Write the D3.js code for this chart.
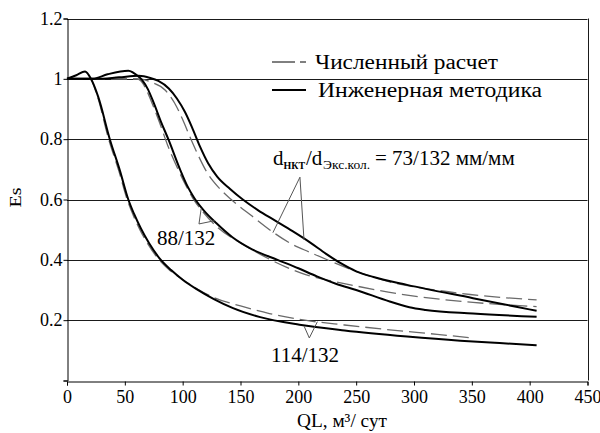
<!DOCTYPE html>
<html><head><meta charset="utf-8">
<script src="https://cdn.jsdelivr.net/npm/d3@7"></script>
<style>
body{margin:0;background:#fff}
svg{display:block}
text{font-family:"Liberation Serif","Times New Roman",serif;fill:#000}
</style>
</head><body><svg id="chart" width="600" height="433" font-family="Liberation Serif, serif"></svg>
<script>
// Axis ticks
const qlTicks = [0, 50, 100, 150, 200, 250, 300, 350, 400, 450];
const esTicks = [0, 0.2, 0.4, 0.6, 0.8, 1, 1.2];
const esTickLabels = ["", "0.2", "0.4", "0.6", "0.8", "1", "1.2"];

// Engineering method (solid) and numerical calculation (dashed), [QL, Es]
const eng73 = [[0,1],[25,1.0],[45,1.005],[62,1.01],[72,1.003],[79,0.993],[88,0.968],[95,0.935],[102,0.89],[108,0.84],[115,0.775],[122,0.72],[130,0.675],[141,0.635],[152,0.60],[165,0.565],[180,0.53],[195,0.495],[210,0.458],[224,0.42],[237,0.388],[250,0.362],[265,0.343],[294,0.317],[351,0.273],[406,0.231]];
const num73 = [[0,1],[40,1.0],[62,1.0],[72,0.99],[85,0.962],[93,0.92],[100,0.865],[106,0.81],[113,0.75],[121,0.69],[131,0.64],[142,0.60],[160,0.545],[178,0.492],[193,0.455],[210,0.425],[227,0.397],[250,0.362],[276,0.33],[322,0.298],[406,0.267]];
const eng88 = [[0,1],[22,1.0],[35,1.015],[53,1.027],[62,1.007],[65,0.996],[70,0.965],[75,0.92],[81,0.86],[87.6,0.80],[97.7,0.70],[104,0.645],[110,0.605],[118,0.565],[129,0.522],[143,0.475],[160,0.435],[182,0.40],[200,0.372],[216,0.345],[233,0.32],[250,0.30],[279,0.262],[296,0.243],[310,0.234],[351,0.222],[406,0.211]];
const num88 = [[0,1],[60,1.0],[64,0.993],[69,0.96],[74,0.915],[80,0.855],[87,0.78],[96,0.70],[103,0.645],[110,0.597],[118,0.557],[130,0.508],[149.6,0.457],[172.6,0.407],[190,0.375],[207,0.35],[225,0.333],[245,0.317],[294,0.283],[351,0.259],[406,0.245]];
const eng114 = [[0,1],[8,1.012],[15.6,1.024],[20.7,1.0],[27,0.94],[37,0.80],[45.8,0.695],[53,0.60],[58,0.552],[64,0.503],[71,0.455],[80,0.405],[90,0.366],[100,0.334],[112,0.303],[127,0.27],[143.5,0.24],[167,0.21],[201,0.185],[240,0.166],[294,0.146],[340,0.132],[374,0.124],[406,0.117]];
const num114 = [[0,1],[20,1.0],[26,0.945],[36,0.80],[44.8,0.695],[52,0.60],[57,0.55],[63,0.50],[70,0.452],[79,0.403],[89,0.365],[100,0.335],[112,0.305],[127,0.275],[150,0.247],[175,0.222],[207,0.199],[240,0.184],[279,0.168],[320,0.153],[351,0.141]];

const series = [
  {data: num73, kind: "num"}, {data: num88, kind: "num"}, {data: num114, kind: "num"},
  {data: eng73, kind: "eng"}, {data: eng88, kind: "eng"}, {data: eng114, kind: "eng"}
];

const legendItems = [
  {kind: "num", label: "Численный расчет"},
  {kind: "eng", label: "Инженерная методика"}
];

const svg = d3.select("#chart");
const W = 600, H = 433;
const m = {left: 67, right: 12.5, top: 18.5, bottom: 52.5};
const x = d3.scaleLinear().domain([0, 450]).range([m.left, W - m.right]);
const y = d3.scaleLinear().domain([0, 1.2]).range([H - m.bottom, m.top]);

const style = {
  num: {stroke: "#6a6a6a", width: 1.3, dash: "16,6"},
  eng: {stroke: "#000", width: 2, dash: null}
};

// horizontal grid lines and right frame
svg.append("g").selectAll("line").data(esTicks.filter(d => d > 0)).join("line")
  .attr("x1", x(0)).attr("x2", x(450))
  .attr("y1", d => Math.round(y(d)) + 0.5).attr("y2", d => Math.round(y(d)) + 0.5)
  .attr("stroke", "#1a1a1a").attr("stroke-width", 1);
svg.append("line")
  .attr("x1", Math.round(x(450)) + 0.5).attr("x2", Math.round(x(450)) + 0.5)
  .attr("y1", y(0)).attr("y2", y(1.2))
  .attr("stroke", "#1a1a1a");

// axes
const xAxis = svg.append("g").attr("transform", `translate(0,${Math.round(y(0)) + 0.5})`)
  .call(d3.axisBottom(x).tickValues(qlTicks).tickSize(4).tickPadding(5).tickFormat(d3.format("d")));
const yAxis = svg.append("g").attr("transform", `translate(${Math.round(x(0)) + 0.5},0)`)
  .call(d3.axisLeft(y).tickValues(esTicks).tickSize(4).tickPadding(1).tickFormat((d, i) => esTickLabels[i]));
[xAxis, yAxis].forEach(g => {
  g.attr("font-family", null);
  g.select(".domain").attr("stroke", "#000");
  g.selectAll(".tick line").attr("stroke", "#000");
  g.selectAll("text").style("font-family", '"Liberation Serif",serif').style("font-size", "18px").attr("fill", "#000");
});

// curves
const line = d3.line().x(d => x(d[0])).y(d => y(d[1])).curve(d3.curveMonotoneX);
svg.append("g").selectAll("path").data(series).join("path")
  .attr("d", d => line(d.data))
  .attr("fill", "none")
  .attr("stroke", d => style[d.kind].stroke)
  .attr("stroke-width", d => style[d.kind].width)
  .attr("stroke-dasharray", d => style[d.kind].dash)
  .attr("stroke-linejoin", "round");

// legend
const legendX = 272, legendY = [62, 90], legendTextX = [315, 318], legendTextW = [183, 224];
legendItems.forEach((d, i) => {
  svg.append("line")
    .attr("x1", legendX).attr("x2", legendX + 34)
    .attr("y1", legendY[i]).attr("y2", legendY[i])
    .attr("stroke", "#000")
    .attr("stroke-width", d.kind === "num" ? 1 : 2)
    .attr("stroke-dasharray", d.kind === "num" ? "23,5" : null);
  svg.append("text")
    .attr("x", legendTextX[i]).attr("y", legendY[i] + 6.5)
    .style("font-size", "20px")
    .attr("textLength", legendTextW[i]).attr("lengthAdjust", "spacingAndGlyphs")
    .text(d.label);
});

// axis titles
svg.append("text").attr("x", 297).attr("y", 427)
  .style("font-size", "19px")
  .attr("textLength", 90).attr("lengthAdjust", "spacingAndGlyphs")
  .text("QL, м³/ сут");
svg.append("text").attr("transform", `translate(20.5,${(y(0) + y(1.2)) / 2 - 2}) rotate(-90)`)
  .attr("text-anchor", "middle").style("font-size", "17px")
  .attr("textLength", 20).attr("lengthAdjust", "spacingAndGlyphs").text("Es");

// curve labels with leader lines (data coordinates)
const leaders = [
  {from: [201.4, 0.674], to: [[178, 0.49], [204.9, 0.466]]},
  {from: [114.1, 0.519], to: [[116, 0.57], [128, 0.53]]},
  {from: [209.5, 0.141], to: [[205, 0.18], [216.5, 0.195]]}
];
const lead = svg.append("g").attr("stroke", "#555").attr("stroke-width", 1).attr("fill", "none");
leaders.forEach(l => l.to.forEach(t => lead.append("line")
  .attr("x1", x(l.from[0])).attr("y1", y(l.from[1]))
  .attr("x2", x(t[0])).attr("y2", y(t[1]))));

svg.append("text").attr("x", x(77.8)).attr("y", y(0.449)).style("font-size", "21px").text("88/132");
svg.append("text").attr("x", x(176.4)).attr("y", y(0.061)).style("font-size", "21px").text("114/132");

// d_НКТ / d_Экс.кол. = 73/132 мм/мм as one text run
const lx = x(178.1), ly = y(0.714);
const t73 = svg.append("text").attr("x", lx).attr("y", ly).style("font-size", "21px");
t73.append("tspan").attr("x", lx).attr("y", ly).text("d");
t73.append("tspan").attr("x", lx + 10.5).attr("y", ly + 4)
  .style("font-size", "10px").style("font-weight", "bold").text("НКТ");
t73.append("tspan").attr("x", lx + 33).attr("y", ly).text("/d");
t73.append("tspan").attr("x", lx + 50).attr("y", ly + 4).style("font-size", "13.5px").text("Экс.кол.");
t73.append("tspan").attr("x", lx + 102).attr("y", ly).text("= 73/132 мм/мм");
</script></body></html>
